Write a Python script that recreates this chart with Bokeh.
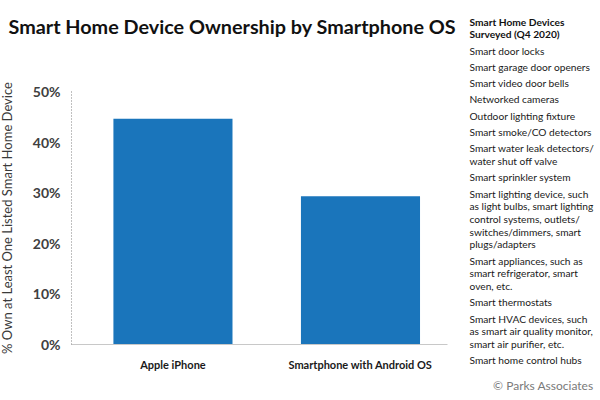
from bokeh.plotting import figure
from bokeh.models import Range1d, FixedTicker, PrintfTickFormatter
from bokeh.embed import file_html
from bokeh.resources import INLINE
from bokeh.core.properties import value

# ---------------- data ----------------
title_text = "Smart Home Device Ownership by Smartphone OS"
categories = ["Apple iPhone", "Smartphone with Android OS"]
shares = [44.6, 29.3]
y_ticks = [0, 10, 20, 30, 40, 50]
y_label = "% Own at Least One Listed Smart Home Device"
legend_header = ["Smart Home Devices", "Surveyed (Q4 2020)"]
legend_items = [
    ["Smart door locks"],
    ["Smart garage door openers"],
    ["Smart video door bells"],
    ["Networked cameras"],
    ["Outdoor lighting fixture"],
    ["Smart smoke/CO detectors"],
    ["Smart water leak detectors/", "water shut off valve"],
    ["Smart sprinkler system"],
    ["Smart lighting device, such", "as light bulbs, smart lighting",
     "control systems, outlets/", "switches/dimmers, smart", "plugs/adapters"],
    ["Smart appliances, such as", "smart refrigerator, smart", "oven, etc."],
    ["Smart thermostats"],
    ["Smart HVAC devices, such", "as smart air quality monitor,", "smart air purifier, etc."],
    ["Smart home control hubs"],
]
credit = "© Parks Associates"

BAR = "#1a75bb"
FONT = "Lato"

# ---------------- geometry (canvas pixels) ----------------
W, H = 600, 398
PL, PR, PT, PB = 71, 447, 91, 344      # plot area edges
XA, XB = 0.459, 2.464                  # x data at PL / PR
YA, YB = 0, 50                         # y data at PB / PT
sx = (XB - XA) / (PR - PL)
sy = (YB - YA) / (PB - PT)
x_lo = XA - PL * sx
x_hi = XB + (W - PR) * sx
y_lo = YA - (H - PB) * sy
y_hi = YB + PT * sy


def dx(px):
    return XA + (px - PL) * sx


def dy(py):
    return YA + (PB - py) * sy


xs = list(range(1, len(categories) + 1))
p = figure(width=W, height=H, x_range=Range1d(x_lo, x_hi), y_range=Range1d(y_lo, y_hi),
           output_backend="svg", toolbar_location=None,
           min_border=0, min_border_left=0, min_border_right=0,
           min_border_top=0, min_border_bottom=0)
p.outline_line_color = None
p.xgrid.visible = False
p.ygrid.visible = False
p.vbar(x=xs, top=shares, bottom=0, width=0.635, fill_color=BAR, line_color=None)

xa = p.xaxis[0]
xa.fixed_location = 0
xa.bounds = (XA, XB)
xa.ticker = FixedTicker(ticks=xs)
xa.major_label_overrides = {x: c for x, c in zip(xs, categories)}
xa.axis_line_color = "#c8c8c8"
xa.major_tick_line_color = None
xa.minor_tick_line_color = None
xa.major_label_standoff = 7
xa.major_label_text_font = FONT
xa.major_label_text_font_style = "bold"
xa.major_label_text_font_size = "11px"
xa.major_label_text_color = "#1a1a1a"

ya = p.yaxis[0]
ya.fixed_location = XA
ya.bounds = (YA, YB)
ya.ticker = FixedTicker(ticks=y_ticks)
ya.formatter = PrintfTickFormatter(format="%d%%")
ya.axis_line_color = "#808080"
ya.axis_line_dash = "1 2"
ya.major_tick_line_color = None
ya.minor_tick_line_color = None
ya.major_label_standoff = 5
ya.major_label_text_font = FONT
ya.major_label_text_font_style = "bold"
ya.major_label_text_font_size = "14px"
ya.major_label_text_color = "#404040"
ya.axis_label = y_label
ya.axis_label_text_font = FONT
ya.axis_label_text_font_style = "normal"
ya.axis_label_text_font_size = "13px"
ya.axis_label_text_color = "#3a3a3a"
ya.axis_label_standoff = 15

# title
p.text(x=[dx(8)], y=[dy(25)], text=[title_text], text_font=value(FONT),
       text_font_style="bold", text_font_size="19.8px", text_baseline="middle",
       text_color="#111111")

# side list
left = 469
line_gap = 12.7
item_gap = 16.3
hx, hy, hs = [], [], []
y = 21
for i, line in enumerate(legend_header):
    hx.append(dx(left)); hy.append(dy(y)); hs.append(line)
    y += line_gap if i < len(legend_header) - 1 else item_gap
p.text(x=hx, y=hy, text=hs, text_font=value(FONT), text_font_style="bold",
       text_font_size="10.2px", text_baseline="middle", text_color="#111111")

lx, ly, ls = [], [], []
for item in legend_items:
    for j, line in enumerate(item):
        lx.append(dx(left)); ly.append(dy(y)); ls.append(line)
        y += line_gap if j < len(item) - 1 else item_gap
p.text(x=lx, y=ly, text=ls, text_font=value(FONT), text_font_size="10.2px",
       text_baseline="middle", text_color="#1a1a1a")

p.text(x=[dx(593)], y=[dy(385)], text=[credit], text_font=value(FONT),
       text_font_size="12px", text_align="right", text_baseline="middle",
       text_color="#7a7a7a")

open("out.html", "w").write(file_html(p, INLINE))
